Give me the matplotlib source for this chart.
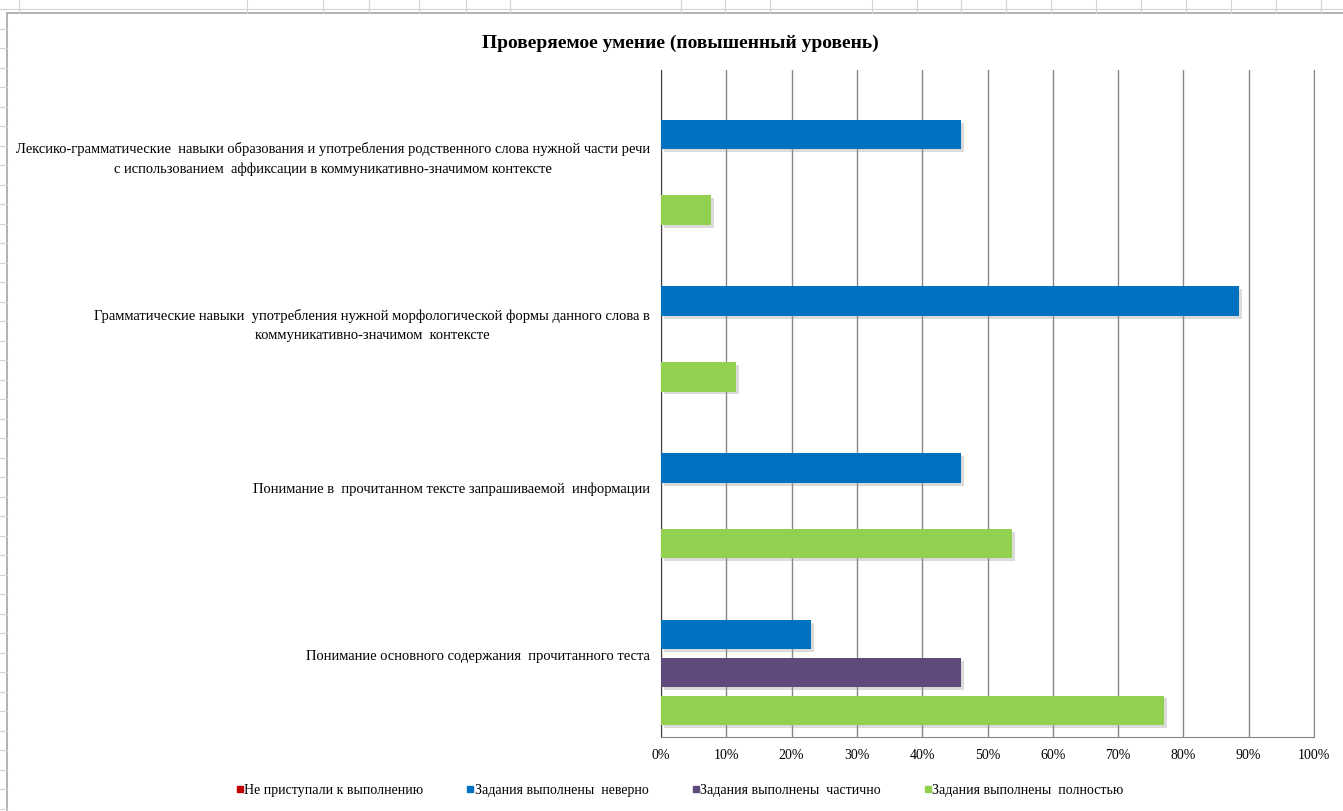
import matplotlib
matplotlib.use("Agg")
import matplotlib.pyplot as plt
import matplotlib.patheffects as pe
from matplotlib.patches import Rectangle
from matplotlib.lines import Line2D
import numpy as np

plt.rcParams['font.family'] = ['Liberation Serif', 'DejaVu Serif']

categories = [
    "Лексико-грамматические  навыки образования и употребления родственного слова нужной части речи\n"
    "с использованием  аффиксации в коммуникативно-значимом контексте",
    "Грамматические навыки  употребления нужной морфологической формы данного слова в\n"
    "коммуникативно-значимом  контексте",
    "Понимание в  прочитанном тексте запрашиваемой  информации",
    "Понимание основного содержания  прочитанного теста",
]
series_names = [
    "Не приступали к выполнению",
    "Задания выполнены  неверно",
    "Задания выполнены  частично",
    "Задания выполнены  полностью",
]
not_started = [0, 0, 0, 0]
wrong = [0.46, 0.885, 0.46, 0.23]
partial = [0, 0, 0, 0.46]
full = [0.077, 0.115, 0.538, 0.77]
colors = ["#C00000", "#0070C0", "#604A7B", "#92D050"]

W, H = 1343, 812
fig = plt.figure(figsize=(W / 100, H / 100), dpi=100)

# spreadsheet background
bg = fig.add_axes([0, 0, 1, 1], zorder=-10)
bg.set_xlim(0, W)
bg.set_ylim(H, 0)
bg.axis("off")
for y in np.arange(10, H, 19.5):
    bg.plot([0, 7], [y, y], color="#d4d4d4", lw=0.8)
for x in [19, 247, 323, 369, 419, 466, 510, 681, 725, 770, 872, 917, 961, 1006,
          1051, 1096, 1141, 1186, 1231, 1276, 1321]:
    bg.plot([x, x], [0, 14], color="#d4d4d4", lw=0.8)
bg.plot([0, W], [10, 10], color="#d4d4d4", lw=0.8)
bg.add_patch(Rectangle((7, 14), W, H, facecolor="white", edgecolor="#a6a6a6", lw=1.2))

ax = fig.add_axes([661 / W, 1 - 738 / H, 653 / W, 667 / H])
values = [not_started, wrong, partial, full]
centers = np.arange(len(categories))[::-1]
step = 0.2266
for j, (vals, c, name) in enumerate(zip(values, colors, series_names)):
    y = centers + (1.5 - j) * step
    bars = ax.barh(y, vals, height=0.177, color=c, label=name, zorder=3)
    for b in bars:
        b.set_path_effects([pe.SimplePatchShadow(offset=(2, -2), shadow_rgbFace="#999999", alpha=0.35),
                            pe.Normal()])

ax.set_xlim(0, 1)
ax.set_ylim(-0.5, 3.5)
ax.set_xticks(np.arange(0, 1.01, 0.1))
ax.set_xticklabels([f"{int(round(v * 100))}%" for v in np.arange(0, 1.01, 0.1)], fontsize=10)
ax.set_yticks(centers)
ax.set_yticklabels(categories, fontsize=10.5)
for t in ax.get_yticklabels():
    t.set_multialignment("center")
    t.set_linespacing(1.6)
ax.tick_params(axis="both", length=0)
ax.tick_params(axis="y", pad=8)
ax.tick_params(axis="x", pad=8)
ax.grid(axis="x", color="#868686", lw=1, zorder=0)
ax.spines["top"].set_visible(False)
ax.spines["right"].set_color("#868686")
ax.spines["left"].set_color("#404040")
ax.spines["bottom"].set_color("#868686")

fig.text(680 / W, 1 - 43 / H, "Проверяемое умение (повышенный уровень)", ha="center", va="center",
         fontsize=14, fontweight="bold")

handles = [Line2D([], [], marker="s", ls="", color=c, markersize=5) for c in colors]
fig.legend(handles, series_names, loc="center", bbox_to_anchor=(680 / W, 1 - 791 / H), ncol=4,
           frameon=False, fontsize=10, handlelength=0.4, handletextpad=0.1, columnspacing=3.2)

fig.savefig("out.png", dpi=100)
